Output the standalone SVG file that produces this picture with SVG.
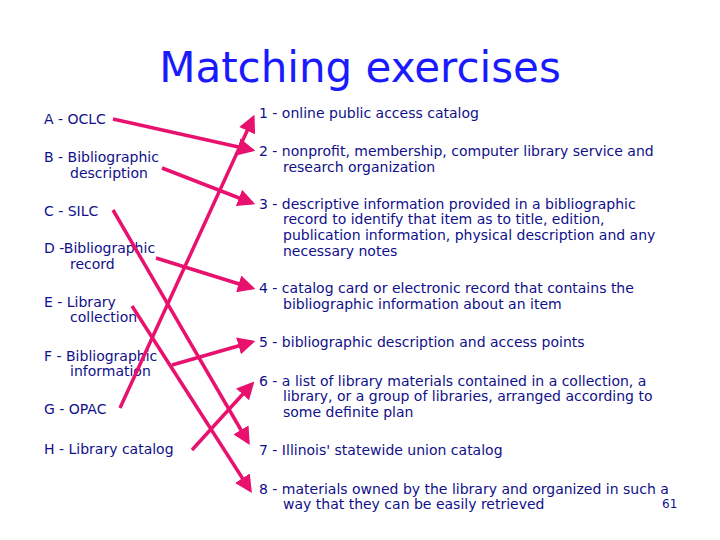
<svg xmlns="http://www.w3.org/2000/svg" width="720" height="540" viewBox="0 0 720 540">
<style>
text{font-family:"DejaVu Sans","Liberation Sans",sans-serif;fill:#10108a;font-size:14px}
.t{font-size:42px;fill:#1a1aff}
.c line{stroke:#e8126e;stroke-width:3.5;marker-end:url(#a)}
</style>
<defs><marker id="a" markerWidth="5" markerHeight="5" refX="4" refY="2.5" orient="auto"><path d="M0,0L5,2.5L0,5z" fill="#e8126e"/></marker></defs>
<rect width="720" height="540" fill="#fff"/>
<text class="t" x="360" y="82" text-anchor="middle">Matching exercises</text>
<g id="left">
<text x="44" y="124">A - OCLC</text>
<text x="44" y="162">B - Bibliographic</text><text x="70" y="178">description</text>
<text x="44" y="216">C - SILC</text>
<text x="44" y="253">D -Bibliographic</text><text x="70" y="269">record</text>
<text x="44" y="307">E - Library</text><text x="70" y="322">collection</text>
<text x="44" y="361">F - Bibliographic</text><text x="70" y="376">information</text>
<text x="44" y="414">G - OPAC</text>
<text x="44" y="454">H - Library catalog</text>
</g>
<g id="right">
<text x="259" y="118">1 - online public access catalog</text>
<text x="259" y="156">2 - nonprofit, membership, computer library service and</text><text x="283" y="172">research organization</text>
<text x="259" y="209">3 - descriptive information provided in a bibliographic</text><text x="283" y="224">record to identify that item as to title, edition,</text><text x="283" y="240">publication information, physical description and any</text><text x="283" y="256">necessary notes</text>
<text x="259" y="293">4 - catalog card or electronic record that contains the</text><text x="283" y="309">bibliographic information about an item</text>
<text x="259" y="347">5 - bibliographic description and access points</text>
<text x="259" y="386">6 - a list of library materials contained in a collection, a</text><text x="283" y="401">library, or a group of libraries, arranged according to</text><text x="283" y="417">some definite plan</text>
<text x="259" y="455">7 - Illinois' statewide union catalog</text>
<text x="259" y="494">8 - materials owned by the library and organized in such a</text><text x="283" y="509">way that they can be easily retrieved</text>
<text x="662" y="508" style="font-size:12px">61</text>
</g>
<g class="c" id="connectors">
<line x1="113" y1="119" x2="252" y2="150"/>
<line x1="162" y1="168" x2="252" y2="203"/>
<line x1="113" y1="210" x2="248" y2="442"/>
<line x1="156" y1="258" x2="252" y2="288"/>
<line x1="132" y1="306" x2="250" y2="490"/>
<line x1="172" y1="365" x2="252" y2="342"/>
<line x1="120" y1="408" x2="253" y2="118"/>
<line x1="192" y1="450" x2="252" y2="384"/>
</g>
</svg>
